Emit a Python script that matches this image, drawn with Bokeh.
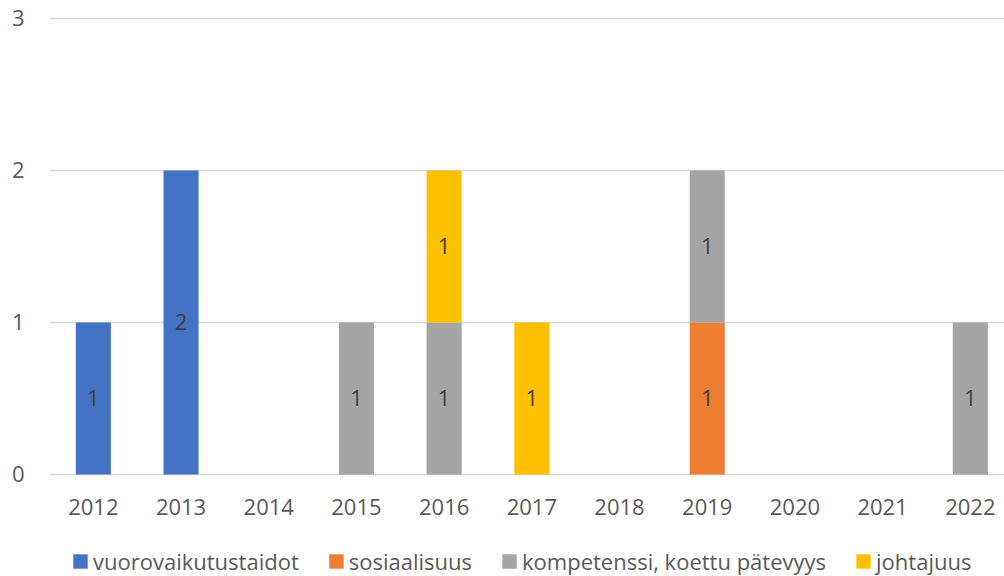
from bokeh.plotting import figure
from bokeh.layouts import column
from bokeh.models import Range1d, FixedTicker, Legend, LegendItem, ColumnDataSource
from bokeh.embed import file_html
from bokeh.resources import INLINE
from bokeh.core.properties import value

years = [2012, 2013, 2014, 2015, 2016, 2017, 2018, 2019, 2020, 2021, 2022]
series = ["vuorovaikutustaidot", "sosiaalisuus", "kompetenssi, koettu pätevyys", "johtajuus"]
vuorovaikutustaidot = [1, 2, 0, 0, 0, 0, 0, 0, 0, 0, 0]
sosiaalisuus = [0, 0, 0, 0, 0, 0, 0, 1, 0, 0, 0]
kompetenssi = [0, 0, 0, 1, 1, 0, 0, 1, 0, 0, 1]
johtajuus = [0, 0, 0, 0, 1, 1, 0, 0, 0, 0, 0]
colors = ["#4472C4", "#ED7D31", "#A5A5A5", "#FFC000"]
y_ticks = [0, 1, 2, 3]

FONT = "Open Sans"
TXT = "#595959"
FS = "22px"

keys = ["s0", "s1", "s2", "s3"]
values = [vuorovaikutustaidot, sosiaalisuus, kompetenssi, johtajuus]
data = {"year": years}
for k, v in zip(keys, values):
    data[k] = v
source = ColumnDataSource(data)

p = figure(width=1004, height=536, output_backend="svg", toolbar_location=None,
           x_range=Range1d(2011.5, 2022.39), y_range=Range1d(-0.0132, 3.0263),
           min_border_left=49, min_border_right=0, min_border_top=14, min_border_bottom=60)
p.outline_line_color = None
p.background_fill_color = "white"
p.border_fill_color = "white"

rs = p.vbar_stack(keys, x="year", width=0.4, color=colors, line_color=None, source=source)

# segment labels
lx, ly, lt = [], [], []
for i, yr in enumerate(years):
    base = 0
    for v in values:
        if v[i] > 0:
            lx.append(yr)
            ly.append(base + v[i] / 2)
            lt.append(str(v[i]))
        base += v[i]
p.text(x=lx, y=ly, text=lt, text_align="center", text_baseline="middle",
       text_font=value(FONT), text_font_size=FS, text_color="#404040")

p.xgrid.grid_line_color = None
p.ygrid.grid_line_color = "#D9D9D9"
p.ygrid.grid_line_width = 1.5
p.ygrid.ticker = FixedTicker(ticks=y_ticks)

p.yaxis.ticker = FixedTicker(ticks=y_ticks)
p.xaxis.ticker = FixedTicker(ticks=years)
for ax in (p.xaxis, p.yaxis):
    ax.axis_line_color = None
    ax.major_tick_line_color = None
    ax.minor_tick_line_color = None
    ax.major_tick_out = 0
    ax.major_tick_in = 0
    ax.minor_tick_out = 0
    ax.major_label_text_font = FONT
    ax.major_label_text_font_size = FS
    ax.major_label_text_color = TXT
p.yaxis.major_label_standoff = 25
p.xaxis.major_label_standoff = 22

# legend strip
pl = figure(width=1004, height=40, output_backend="svg", toolbar_location=None,
            x_range=Range1d(0, 1), y_range=Range1d(0, 1),
            x_axis_location=None, y_axis_location=None,
            min_border_left=0, min_border_right=0, min_border_top=0, min_border_bottom=0)
pl.outline_line_color = None
pl.xgrid.grid_line_color = None
pl.ygrid.grid_line_color = None
lr = [pl.vbar(x=[-10], top=[-10], bottom=[-11], width=0.4, color=c, line_color=None) for c in colors]

legend = Legend(items=[LegendItem(label=s, renderers=[r]) for s, r in zip(series, lr)],
                orientation="horizontal", location=(22, 0))
legend.border_line_color = None
legend.background_fill_alpha = 0
legend.label_text_font = FONT
legend.label_text_font_size = FS
legend.label_text_color = TXT
legend.glyph_width = 18
legend.glyph_height = 18
legend.label_standoff = 4
legend.spacing = 28
legend.padding = 0
legend.margin = 0
pl.add_layout(legend, "center")

layout = column(p, pl, spacing=0)
open("out.html", "w").write(file_html(layout, INLINE))
